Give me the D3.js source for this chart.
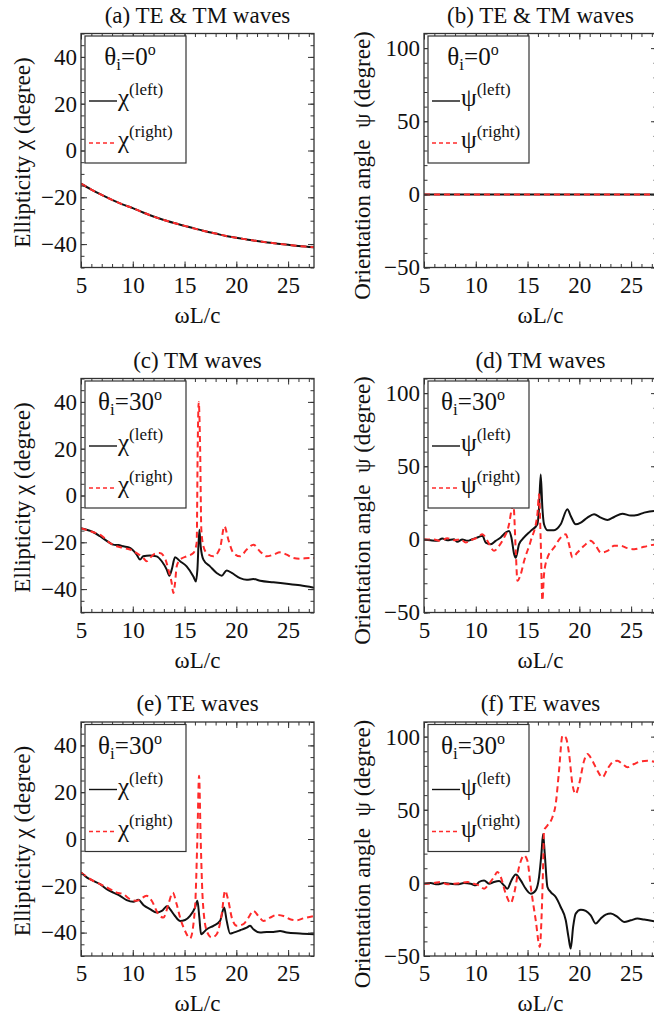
<!DOCTYPE html>
<html>
<head>
<meta charset="utf-8">
<script src="https://cdn.jsdelivr.net/npm/d3@7"></script>
<style>
body { margin: 0; background: #fff; }
text { font-family: "Liberation Serif", "Times New Roman", serif; font-size: 23px; fill: #111; }
</style>
</head>
<body>
<div id="chart-area"></div>
<script>
// ---- data ----
const xTicks = [5, 10, 15, 20, 25];
const chiTicks = [-40, -20, 0, 20, 40];
const psiTicks = [-50, 0, 50, 100];

// (a)/(b) normal incidence, left & right coincide
const normChi = [[5,-14.2],[6,-16.7],[7,-19.0],[8,-21.1],[9,-23.0],[10,-24.6],[11,-26.5],[12,-28.2],[13,-29.7],[14,-31.0],
  [15,-32.2],[16,-33.4],[17,-34.5],[18,-35.5],[19,-36.5],[20,-37.3],[21,-38.0],[22,-38.7],[23,-39.3],[24,-39.8],
  [25,-40.3],[26,-40.8],[27,-41.2],[27.5,-41.4]];
const normPsi = [[5,0],[27.5,0]];

// (c) TM, ellipticity
const tmChiLeft = [[5,-14],[6.2,-15.7],[6.84,-17.4],[7.8,-20.3],[8.12,-21.0],[8.6,-21.2],[9.09,-21.7],[9.73,-22.4],[10.38,-25.3],[10.7,-27.4],
  [11.0,-26],[11.67,-25.6],[12.3,-26],[12.8,-28.1],[13.28,-31.7],[13.53,-34.3],[13.76,-31.7],[14.08,-26.4],[14.57,-28.1],[15.2,-30.3],
  [15.85,-34.6],[16.1,-36.7],[16.24,-31.7],[16.43,-14.6],[16.56,-21.7],[16.82,-27.4],[17.46,-30.3],[18.1,-33.1],[18.59,-34.3],[19.07,-32.0],
  [19.56,-33.1],[20.36,-35.3],[21.0,-36.0],[21.65,-35.7],[22.3,-36.4],[23.58,-37.1],[24.86,-37.7],[26.16,-38.4],[27.5,-39.4]];
const tmChiRight = [[5,-14],[6.19,-15.7],[6.84,-16.7],[7.8,-20.3],[8.45,-21.7],[9.09,-22.4],[9.73,-23.1],[10.38,-24.6],[11.02,-26.7],[11.34,-28.1],
  [11.66,-26.7],[12.14,-24.9],[12.6,-24.6],[13.1,-26.7],[13.44,-31.7],[13.76,-37.4],[13.92,-41.7],[14.08,-37.4],[14.24,-30.3],[14.57,-27.4],
  [15.2,-26],[15.85,-24.6],[16.17,-20.3],[16.27,21],[16.37,40],[16.5,21],[16.62,-14.6],[16.82,-21.7],[17.14,-24.6],[17.79,-26],
  [18.43,-22.4],[18.85,-13.1],[19.23,-18.9],[19.72,-24.6],[20.36,-26],[21.0,-23.1],[21.65,-21],[22.29,-23.9],[22.93,-26],[23.58,-25.3],
  [24.22,-24.3],[24.86,-25.3],[25.5,-26.7],[26.15,-27.0],[27.1,-26.7],[27.5,-26.7]];

// (d) TM, orientation angle
const tmPsiLeft = [[5,0],[5.64,-0.6],[6.29,-1.0],[6.77,0.6],[7.25,-0.6],[7.9,0.1],[8.22,-1.7],[8.7,-0.1],[9.19,-1.0],[9.67,0.1],
  [10.15,1.3],[10.64,2.4],[10.96,-2.2],[11.44,-3.3],[11.92,-1.0],[12.41,1.3],[12.89,4.7],[13.21,5.8],[13.44,1.3],[13.7,-10],
  [13.86,-12.6],[14.18,-3.3],[14.66,1.3],[15.31,5.8],[15.95,10.3],[16.11,21.7],[16.27,44.4],[16.43,21.7],[16.59,10.3],[16.92,6.3],
  [17.56,6.3],[18.2,10.3],[18.85,20.6],[19.17,16.0],[19.65,10.3],[20.14,11.5],[20.78,14.9],[21.42,17.2],[22.07,14.9],[22.71,13.3],
  [23.36,15.3],[24.16,17.6],[24.97,16.3],[25.61,16.7],[26.26,18.3],[27.22,19.4],[27.5,19.4]];
const tmPsiRight = [[5,0],[5.97,-0.1],[6.61,-1.0],[7.25,0.8],[7.9,-0.6],[8.54,0.1],[9.03,-2.2],[9.51,-0.6],[10.15,1.2],[10.64,3.5],
  [11.12,-1.0],[11.76,-7.8],[12.25,-4.4],[12.73,1.2],[13.21,10.3],[13.45,20],[13.63,24],[13.86,-7.8],[14.02,-28.3],[14.34,-23.9],
  [14.66,-14.9],[15.31,-1.0],[15.95,17.2],[16.11,30.8],[16.27,-1.0],[16.43,-41.9],[16.59,-23.9],[16.92,-12.6],[17.56,-5.6],[18.2,1.2],
  [18.69,3.5],[19.0,-3.3],[19.33,-12.4],[19.81,-9.0],[20.46,-4.4],[21.1,-1.0],[21.59,-4.4],[22.07,-9.0],[22.71,-7.9],[23.36,-4.4],
  [24.0,-4.4],[24.65,-6.0],[25.29,-6.7],[26.26,-5.1],[27.22,-3.7],[27.5,-3.7]];

// (e) TE, ellipticity
const teChiLeft = [[5,-14.3],[5.55,-16.4],[6.19,-17.9],[6.84,-19.3],[7.48,-21.4],[8.12,-22.9],[8.77,-24.3],[9.41,-26.1],[10.06,-26.8],[10.54,-26.0],
  [11.02,-28.2],[11.67,-30],[12.31,-31.4],[12.8,-30.7],[13.34,-28.6],[13.6,-30],[14.08,-32.9],[14.57,-35],[15.05,-34.6],[15.53,-32.9],
  [16.01,-29.3],[16.24,-26.4],[16.43,-33.6],[16.59,-40.7],[16.82,-40],[17.14,-38.6],[17.79,-37.1],[18.43,-35],[18.82,-29.3],[19.07,-35],
  [19.4,-40.4],[19.72,-40],[20.36,-39],[21.0,-37.9],[21.33,-37.1],[21.65,-38.6],[22.29,-40],[22.94,-39.7],[23.58,-39.7],[24.22,-39.3],
  [24.87,-40],[26.15,-40.4],[27.5,-40.7]];
const teChiRight = [[5,-14.3],[6.19,-17.9],[6.84,-19.3],[7.8,-21.4],[8.45,-22.9],[9.09,-23.6],[9.73,-25.7],[10.38,-26.4],[11.34,-24.3],[11.83,-26.4],
  [12.47,-32.1],[12.96,-33.6],[13.44,-27.9],[13.86,-22.9],[14.24,-27.9],[14.57,-33.6],[15.05,-39.3],[15.53,-42.5],[16.01,-29.3],[16.24,0.7],
  [16.4,27],[16.56,-0.7],[16.76,-26.4],[17.14,-39.3],[17.62,-42.1],[18.1,-40.7],[18.59,-32.1],[18.91,-22.1],[19.23,-26.4],[19.56,-33.6],
  [20.04,-37.1],[20.68,-36.4],[21.17,-33.6],[21.65,-30.7],[22.13,-32.9],[22.62,-35],[23.26,-33.6],[23.9,-32.4],[24.55,-32.9],[25.19,-34.3],
  [25.84,-34.7],[26.48,-33.9],[27.5,-32.9]];

// (f) TE, orientation angle
const tePsiLeft = [[5,-0.6],[5.64,-0.1],[6.29,-1.0],[6.93,-0.1],[7.58,-0.6],[8.22,-1.0],[8.86,-0.1],[9.51,-0.6],[9.99,-1.7],[10.31,0.6],
  [10.8,1.7],[11.28,-0.6],[11.76,0.6],[12.25,1.2],[12.73,-1.7],[13.05,-4.0],[13.44,1.7],[13.86,5.7],[14.34,1.7],[14.82,-4.0],
  [15.31,-7.4],[15.79,-5.1],[16.11,4.0],[16.34,19.9],[16.5,33.5],[16.66,19.9],[16.92,-2.8],[17.24,-6.3],[17.72,-9.7],[18.2,-16.5],
  [18.69,-25.6],[18.95,-36.9],[19.17,-44.9],[19.4,-30.1],[19.65,-21],[20.14,-18.3],[20.62,-19.2],[21.1,-22.2],[21.59,-27.8],[22.07,-24.4],
  [22.55,-21.7],[23.04,-21.0],[23.68,-23.3],[24.32,-26.7],[24.97,-25.6],[25.61,-24.4],[26.26,-25.1],[27.22,-26.2],[27.5,-26.5]];
const tePsiRight = [[5,-0.6],[5.97,-0.1],[6.61,0.6],[7.25,-1.0],[7.9,-0.6],[8.54,-0.1],[9.19,0.6],[9.83,-0.6],[10.31,-1.7],[10.8,-4.0],
  [11.28,-0.6],[11.76,4.0],[12.09,7.4],[12.41,4.0],[12.89,-7.4],[13.37,-13.8],[13.7,-7.4],[14.18,10.8],[14.66,18.8],[14.98,15.3],
  [15.31,-2.8],[15.79,-25.6],[16.18,-43.8],[16.34,-25.6],[16.5,10.8],[16.59,35.8],[16.92,39.2],[17.4,44.9],[17.72,54.0],[18.04,76.7],
  [18.37,100.6],[18.69,99.4],[19.01,88.1],[19.33,67.6],[19.65,60.8],[19.98,67.6],[20.46,83.5],[20.78,88.1],[21.26,83.5],[21.75,76.7],
  [22.23,72.2],[22.71,77.8],[23.2,82.4],[23.68,83.5],[24.16,81.3],[24.65,79.0],[25.29,81.3],[25.93,83.1],[26.58,83.5],[27.5,82.4]];

// ---- layout ----
const colLeft = [81, 424], rowTop = [33.5, 378.5, 722];
const pw = 233, ph = 234;
const red = "#ff2b2b";

let svgCanvas = d3.select("#chart-area")
                  .append("svg")
                  .attr("width", 654)
                  .attr("height", 1017);

const panels = [
  {title: "(a) TE & TM waves", col: 0, row: 0, kind: "chi", theta: "0", left: normChi, right: normChi},
  {title: "(b) TE & TM waves", col: 1, row: 0, kind: "psi", theta: "0", left: normPsi, right: normPsi},
  {title: "(c) TM waves", col: 0, row: 1, kind: "chi", theta: "30", left: tmChiLeft, right: tmChiRight},
  {title: "(d) TM waves", col: 1, row: 1, kind: "psi", theta: "30", left: tmPsiLeft, right: tmPsiRight},
  {title: "(e) TE waves", col: 0, row: 2, kind: "chi", theta: "30", left: teChiLeft, right: teChiRight},
  {title: "(f) TE waves", col: 1, row: 2, kind: "psi", theta: "30", left: tePsiLeft, right: tePsiRight}
];

panels.forEach((p, i) => {
  let g = svgCanvas.append("g")
                   .attr("transform", `translate(${colLeft[p.col]},${rowTop[p.row]})`);
  let isChi = p.kind === "chi";
  let x = d3.scaleLinear().domain([5, 27.5]).range([0, pw]);
  let y = d3.scaleLinear().domain(isChi ? [-50, 50] : [-50, 110]).range([ph, 0]);
  let yMajor = isChi ? chiTicks : psiTicks;
  let yMinor = isChi ? y.ticks(20) : y.ticks(16);
  let xMinor = x.ticks(20);

  // curves
  g.append("clipPath").attr("id", "clip" + i)
   .append("rect").attr("width", pw).attr("height", ph);
  let line = d3.line().x(d => x(d[0])).y(d => y(d[1])).curve(d3.curveMonotoneX);
  let curves = g.append("g").attr("clip-path", `url(#clip${i})`);
  curves.append("path").datum(p.left)
        .attr("d", line).attr("fill", "none")
        .attr("stroke", "#111").attr("stroke-width", 2);
  curves.append("path").datum(p.right)
        .attr("d", line).attr("fill", "none")
        .attr("stroke", red).attr("stroke-width", 2)
        .attr("stroke-dasharray", "6,4");

  // frame ticks, all pointing inward
  function addAxis(axis, tx, ty) {
    let a = g.append("g").attr("transform", `translate(${tx},${ty})`).call(axis);
    a.select(".domain").remove();
    a.selectAll("line").attr("stroke", "#333").attr("stroke-width", 1);
    return a;
  }
  addAxis(d3.axisBottom(x).tickValues(xMinor).tickSize(-3.5).tickFormat(""), 0, ph);
  addAxis(d3.axisBottom(x).tickValues(xTicks).tickSize(-6).tickPadding(9).tickFormat(d3.format("d")), 0, ph);
  addAxis(d3.axisTop(x).tickValues(xMinor).tickSize(-3.5).tickFormat(""), 0, 0);
  addAxis(d3.axisTop(x).tickValues(xTicks).tickSize(-6).tickFormat(""), 0, 0);
  addAxis(d3.axisLeft(y).tickValues(yMinor).tickSize(-3.5).tickFormat(""), 0, 0);
  addAxis(d3.axisLeft(y).tickValues(yMajor).tickSize(-6).tickPadding(4), 0, 0);
  addAxis(d3.axisRight(y).tickValues(yMinor).tickSize(-3.5).tickFormat(""), pw, 0);
  addAxis(d3.axisRight(y).tickValues(yMajor).tickSize(-6).tickFormat(""), pw, 0);

  g.append("rect").attr("width", pw).attr("height", ph)
   .attr("fill", "none").attr("stroke", "#333").attr("stroke-width", 1.3);

  // legend
  let sym = isChi ? "\u03C7" : "\u03C8";
  let lg = g.append("g").attr("transform", "translate(4,2.5)");
  lg.append("rect").attr("width", 101).attr("height", 127)
    .attr("fill", "#fff").attr("stroke", "#333").attr("stroke-width", 1.2);
  let th = lg.append("text").attr("x", 45).attr("y", 29).attr("text-anchor", "middle")
             .style("font-size", "25px");
  th.append("tspan").text("\u03B8");
  th.append("tspan").style("font-size", "17px").attr("dy", 5).text("i");
  th.append("tspan").attr("dy", -5).text("=" + p.theta);
  th.append("tspan").style("font-size", "16px").attr("dy", -10).text("o");

  [["(left)", "#111", null, 65], ["(right)", red, "4,3", 107]].forEach(r => {
    lg.append("line").attr("x1", 4).attr("x2", 32).attr("y1", r[3]).attr("y2", r[3])
      .attr("stroke", r[1]).attr("stroke-width", 1.4)
      .attr("stroke-dasharray", r[2]);
    let t = lg.append("text").attr("x", 33).attr("y", r[3] + 5).style("font-size", "25px");
    t.append("tspan").text(sym);
    t.append("tspan").style("font-size", "17px").attr("dy", -11).text(r[0]);
  });

  // titles and axis labels
  g.append("text").attr("x", pw / 2).attr("y", -11)
   .attr("text-anchor", "middle").text(p.title);
  g.append("text").attr("x", pw / 2).attr("y", ph + 55)
   .attr("text-anchor", "middle").text("\u03C9L/c");
  g.append("text")
   .attr("transform", isChi ? `translate(-51,${ph / 2 + 2}) rotate(-90)` : `translate(-54,${ph / 2 + 15}) rotate(-90)`)
   .attr("text-anchor", "middle")
   .style("white-space", "pre")
   .text(isChi ? "Ellipticity \u03C7 (degree)" : "Orientation angle  \u03C8 (degree)");
});
</script>
</body>
</html>
